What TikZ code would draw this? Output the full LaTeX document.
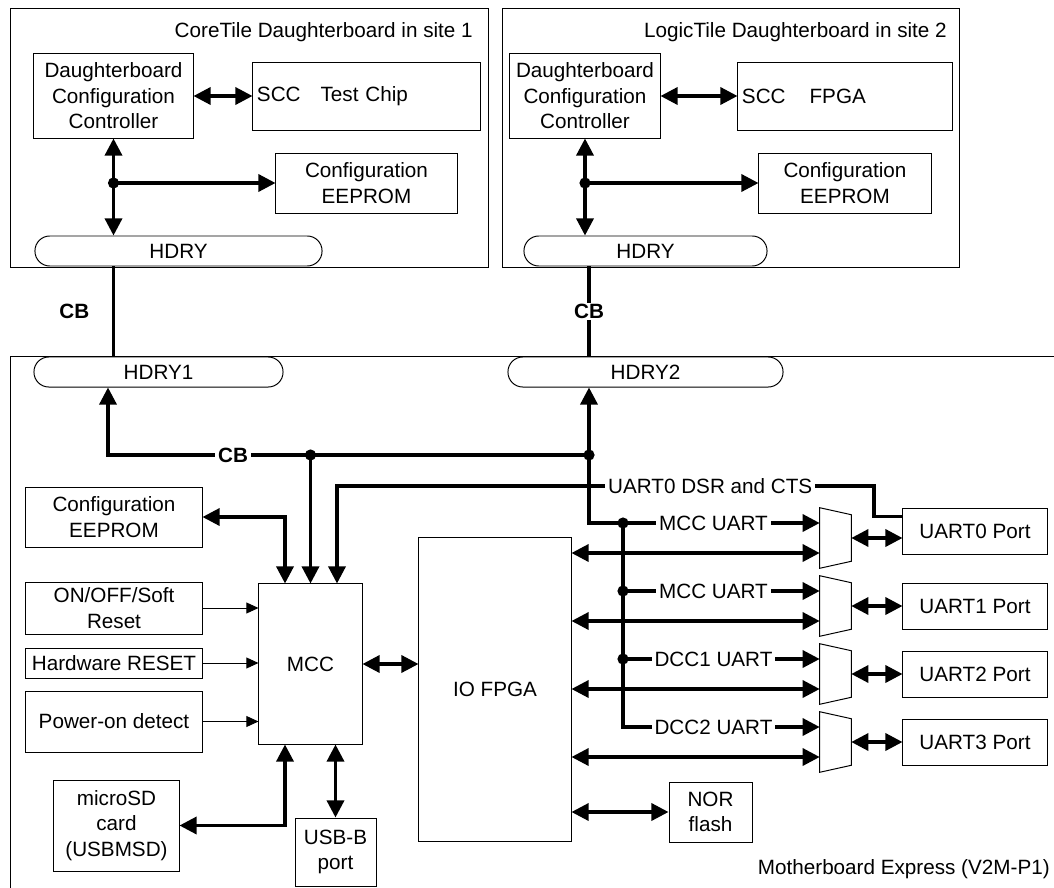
\documentclass[tikz,border=0pt]{standalone}
\usepackage{fontspec}
\setmainfont{Liberation Sans}
\usepackage{tikz}
\usetikzlibrary{positioning, arrows.meta, calc}
\newcommand{\boardfont}{\fontsize{14.7}{18.2}\selectfont}

\begin{document}
\begin{tikzpicture}[
    x=0.025cm, y=-0.025cm,
    every node/.style={font=\boardfont},
    block/.style 2 args={
        rectangle,
        draw,
        line width=0.7pt,
        align=center,
        inner sep=0pt,
        minimum width=#1,
        minimum height=#2
    },
    chipbox/.style={
        rectangle,
        draw,
        line width=0.7pt,
        align=left,
        inner xsep=0.1cm,
        inner ysep=0pt,
        text width=#1,
        minimum height=1.7cm
    },
    header/.style={
        rectangle,
        rounded corners=0.37cm,
        draw,
        line width=0.7pt,
        inner sep=0pt,
        minimum width=#1,
        minimum height=0.75cm
    },
    muxbox/.style={minimum width=0.775cm, minimum height=1.5cm, inner sep=0pt},
    title/.style={anchor=east, inner sep=0pt},
    cb/.style={font=\boardfont\bfseries},
    buslabel/.style={fill=white, inner xsep=2pt, inner ysep=1pt},
    bus/.style={line width=2.3pt},
    arrow/.style={bus, -{Triangle[length=0.43cm, width=0.43cm]}},
    biarrow/.style={bus, {Triangle[length=0.43cm, width=0.43cm]}-{Triangle[length=0.43cm, width=0.43cm]}},
    thinarrow/.style={line width=0.7pt, -{Triangle[length=0.3cm, width=0.27cm]}}
]
\useasboundingbox (0,0) rectangle (1054,888);

% boards
\node[block={11.925cm}{6.45cm}] (coretile) at (249.5,138) {};
\node[block={11.4cm}{6.45cm}] (logictile) at (731,138) {};
\node[block={26.75cm}{14cm}] (mboard) at (546,637) {};
\node[title] (coretitle) at (473,32) {CoreTile Daughterboard in site 1};
\node[title] (logictitle) at (947,32) {LogicTile Daughterboard in site 2};
\node[title] (mbtitle) at (1050,869) {Motherboard Express (V2M-P1)};

% site 1
\node[block={3.975cm}{2.1cm}] (dcca) at (113.5,96) {Daughterboard\\Configuration\\Controller};
\node[chipbox=5.475cm] (scca) at (366.5,96) {SCC\hspace{0.5cm}Test Chip};
\node[block={4.525cm}{1.5cm}] (eeproma) at (366.5,183) {Configuration\\EEPROM};
\node[header=7.175cm] (hdrya) at (178.5,251) {HDRY};

% site 2
\node[block={3.75cm}{2.1cm}] (dccb) at (585,96) {Daughterboard\\Configuration\\Controller};
\node[chipbox=5.15cm] (sccb) at (845,96) {SCC\hspace{0.6cm}FPGA};
\node[block={4.3cm}{1.5cm}] (eepromb) at (845,183) {Configuration\\EEPROM};
\node[header=6.075cm] (hdryb) at (645.5,251) {HDRY};

% motherboard
\node[header=6.225cm] (hdryone) at (158.5,372) {HDRY1};
\node[header=6.875cm] (hdrytwo) at (645.5,372) {HDRY2};
\node[block={4.4cm}{1.5cm}] (eeprommb) at (114,517) {Configuration\\EEPROM};
\node[block={4.4cm}{1.3cm}] (onoff) at (114,608) {ON/OFF/Soft\\Reset};
\node[block={4.4cm}{0.75cm}] (hwreset) at (114,663) {Hardware RESET};
\node[block={4.4cm}{1.525cm}] (poweron) at (114,721.5) {Power-on detect};
\node[block={2.575cm}{4cm}] (mcc) at (310.5,664) {MCC};
\node[block={3.8cm}{7.575cm}] (iofpga) at (495,689.5) {IO FPGA};
\node[block={3.125cm}{2.275cm}] (microsd) at (116.5,825.5) {microSD\\card\\(USBMSD)};
\node[block={2.025cm}{1.7cm}] (usbb) at (335.5,852) {USB-B\\port};
\node[block={2.075cm}{1.5cm}] (norflash) at (710.5,812) {NOR\\flash};

\node[muxbox] (muxa) at (835.5,538) {};
\node[muxbox] (muxb) at (835.5,606) {};
\node[muxbox] (muxc) at (835.5,674) {};
\node[muxbox] (muxd) at (835.5,742) {};
\draw[line width=0.7pt] (muxa.north west) -- ($(muxa.north east)+(0,7)$) -- ($(muxa.south east)+(0,-7)$) -- (muxa.south west) -- cycle;
\draw[line width=0.7pt] (muxb.north west) -- ($(muxb.north east)+(0,7)$) -- ($(muxb.south east)+(0,-7)$) -- (muxb.south west) -- cycle;
\draw[line width=0.7pt] (muxc.north west) -- ($(muxc.north east)+(0,7)$) -- ($(muxc.south east)+(0,-7)$) -- (muxc.south west) -- cycle;
\draw[line width=0.7pt] (muxd.north west) -- ($(muxd.north east)+(0,7)$) -- ($(muxd.south east)+(0,-7)$) -- (muxd.south west) -- cycle;

\node[block={3.6cm}{1.15cm}] (portzero) at (975,531) {UART0 Port};
\node[block={3.6cm}{1.15cm}] (portone) at (975,606) {UART1 Port};
\node[block={3.6cm}{1.15cm}] (porttwo) at (975,674) {UART2 Port};
\node[block={3.6cm}{1.15cm}] (portthree) at (975,742) {UART3 Port};

% daughterboard links
\draw[biarrow] (dcca.east) -- (scca.west);
\draw[biarrow] (dcca.south) -- (dcca.south |- hdrya.north);
\coordinate (ja) at (dcca.south |- eeproma.west);
\draw[arrow] (ja) -- (eeproma.west);
\fill (ja) circle[radius=0.14cm];

\draw[biarrow] (dccb.east) -- (sccb.west);
\draw[biarrow] (dccb.south) -- (dccb.south |- hdryb.north);
\coordinate (jb) at (dccb.south |- eepromb.west);
\draw[arrow] (jb) -- (eepromb.west);
\fill (jb) circle[radius=0.14cm];

% CB between boards
\coordinate (cbj1) at (310.5,455);
\coordinate (cbj2) at (589,455);
\coordinate (cbcorner) at (108,455);
\draw[bus] (dcca.south |- hdrya.south) -- node[cb, left=0.45cm] {CB} (dcca.south |- hdryone.north);
\draw[bus] (cbj2 |- hdryb.south) -- node[cb, fill=white, inner sep=1pt] {CB} (cbj2 |- hdrytwo.north);

% CB on motherboard
\draw[arrow] (cbj2) -- node[cb, buslabel, pos=0.74] {CB} (cbcorner) -- (cbcorner |- hdryone.south);
\draw[arrow] (cbj2) -- (cbj2 |- hdrytwo.south);
\draw[arrow] (cbj1) -- (cbj1 |- mcc.north);
\fill (cbj1) circle[radius=0.14cm];
\fill (cbj2) circle[radius=0.14cm];

% UART sources
\coordinate (ina) at ($(muxa.west)+(0,-15)$);
\coordinate (inb) at ($(muxb.west)+(0,-15)$);
\coordinate (inc) at ($(muxc.west)+(0,-15)$);
\coordinate (ind) at ($(muxd.west)+(0,-15)$);
\coordinate (ua) at (623,0 |- ina);
\coordinate (ub) at (623,0 |- inb);
\coordinate (uc) at (623,0 |- inc);
\coordinate (ud) at (623,0 |- ind);
\draw[bus] (cbj2) |- (ua);
\draw[arrow] (ua) -- node[buslabel, pos=0.46] {MCC UART} (ina);
\draw[arrow] (ub) -- node[buslabel, pos=0.46] {MCC UART} (inb);
\draw[arrow] (uc) -- node[buslabel, pos=0.46] {DCC1 UART} (inc);
\draw[arrow] (ua) -- (ud) -- node[buslabel, pos=0.46] {DCC2 UART} (ind);
\fill (ua) circle[radius=0.14cm];
\fill (ub) circle[radius=0.14cm];
\fill (uc) circle[radius=0.14cm];

% IO FPGA lanes
\coordinate (fpa) at ($(muxa.west)+(0,15)$);
\coordinate (fpb) at ($(muxb.west)+(0,15)$);
\coordinate (fpc) at ($(muxc.west)+(0,15)$);
\coordinate (fpd) at ($(muxd.west)+(0,15)$);
\draw[biarrow] (iofpga.east |- fpa) -- (fpa);
\draw[biarrow] (iofpga.east |- fpb) -- (fpb);
\draw[biarrow] (iofpga.east |- fpc) -- (fpc);
\draw[biarrow] (iofpga.east |- fpd) -- (fpd);
\draw[biarrow] (iofpga.east |- norflash.west) -- (norflash.west);

% mux to ports
\draw[biarrow] (muxa.east) -- (muxa.east -| portzero.west);
\draw[biarrow] (muxb.east) -- (muxb.east -| portone.west);
\draw[biarrow] (muxc.east) -- (muxc.east -| porttwo.west);
\draw[biarrow] (muxd.east) -- (muxd.east -| portthree.west);

% DSR and CTS
\coordinate (dsrdrop) at ($(mcc.north)+(26.5,0)$);
\coordinate (dsrcorner) at (874,486);
\draw[arrow] ($(portzero.north west)+(0,9)$) -| (dsrcorner) -- node[buslabel, pos=0.305] {UART0 DSR and CTS} (dsrcorner -| dsrdrop) -- (dsrdrop);

% MCC links
\coordinate (eepdrop) at ($(mcc.north)+(-25.5,0)$);
\draw[biarrow] (eeprommb.east) -| (eepdrop);
\draw[thinarrow] (onoff.east) -- (onoff.east -| mcc.west);
\draw[thinarrow] (hwreset.east) -- (hwreset.east -| mcc.west);
\draw[thinarrow] (poweron.east) -- (poweron.east -| mcc.west);
\draw[biarrow] (mcc.east) -- (mcc.east -| iofpga.west);
\coordinate (sddrop) at ($(mcc.south)+(-25.5,0)$);
\draw[biarrow] (microsd.east) -| (sddrop);
\draw[biarrow] (usbb.north) -- (usbb.north |- mcc.south);

\end{tikzpicture}
\end{document}
